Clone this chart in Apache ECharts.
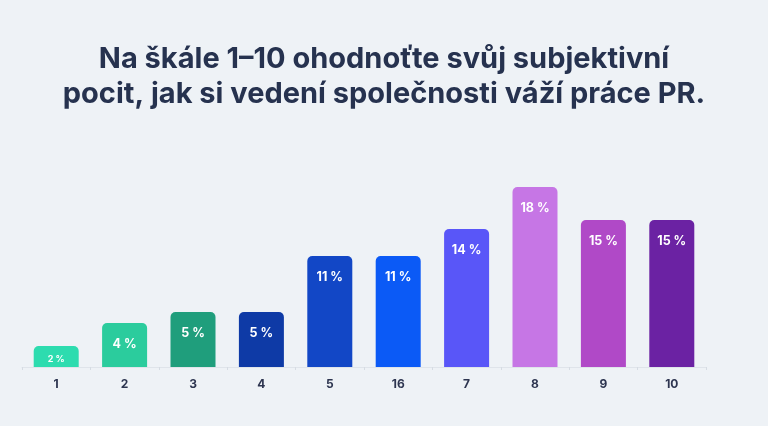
<!DOCTYPE html>
<html>
<head>
<meta charset="utf-8">
<script src="https://cdn.jsdelivr.net/npm/echarts@6/dist/echarts.min.js"></script>
<style>
html,body{margin:0;padding:0;background:#eef2f6;}
#c{width:768px;height:426px;}
</style>
</head>
<body>
<div id="c"></div>
<script>
const titleText = "Na škále 1–10 ohodnoťte svůj subjektivní\npocit, jak si vedení společnosti váží práce PR.";
const categories = ["1","2","3","4","5","16","7","8","9","10"];
const values = [2.1,4.4,5.5,5.5,11.1,11.1,13.8,18.0,14.7,14.7];
const labelTexts = ["2 %","4 %","5 %","5 %","11 %","11 %","14 %","18 %","15 %","15 %"];
const colors = ["#2ddcaf","#2bcc9d","#1f9e7c","#0e3aa6","#1247c6","#0b5af6","#5956f8","#c676e5","#b049c7","#6b22a3"];

const chart = echarts.init(document.getElementById('c'));
chart.setOption({
  backgroundColor: '#eef2f6',
  title: {
    text: titleText,
    left: 'center',
    top: 37,
    textStyle: {
      fontFamily: 'Inter',
      fontWeight: 'bold',
      fontSize: 29,
      lineHeight: 35,
      color: '#26324f'
    }
  },
  grid: { left: 22, right: 62, top: 167, bottom: 59 },
  xAxis: {
    type: 'category',
    data: categories,
    axisLine: { lineStyle: { color: '#dfe4ea', width: 1 } },
    axisTick: { show: true, length: 3, lineStyle: { color: '#d6dce3' } },
    axisLabel: {
      margin: 11,
      fontFamily: 'Inter',
      fontWeight: 'bold',
      fontSize: 12,
      color: '#2d3550'
    }
  },
  yAxis: {
    type: 'value',
    min: 0,
    max: 20,
    show: false,
    splitLine: { show: false }
  },
  series: [{
    type: 'bar',
    barWidth: 45,
    data: values.map((v, i) => ({
      value: v,
      itemStyle: { color: colors[i], borderRadius: [5,5,0,0] },
      label: v < 3 ? { fontSize: 9, distance: 9 } : {}
    })),
    label: {
      show: true,
      position: 'insideTop',
      distance: 15,
      formatter: p => labelTexts[p.dataIndex],
      fontFamily: 'Inter',
      fontWeight: 'bold',
      fontSize: 12.5,
      color: '#ffffff'
    }
  }]
});
</script>
</body>
</html>
